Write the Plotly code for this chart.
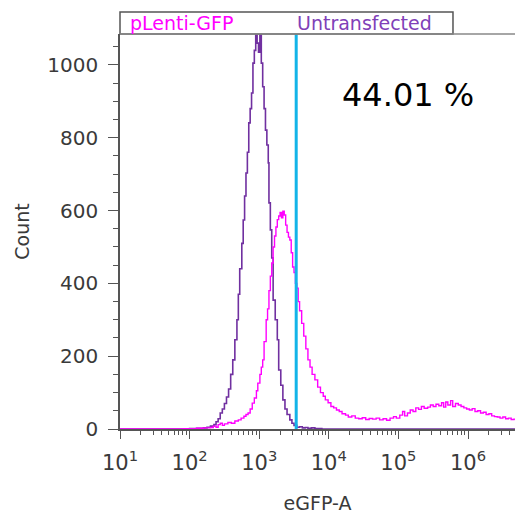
import plotly.graph_objects as go

# log10(eGFP-A) bin positions and counts
untr_logx = [1.0, 1.5, 2.0, 2.1, 2.2, 2.25, 2.3, 2.35, 2.38, 2.41, 2.44, 2.47, 2.50, 2.53, 2.56,
             2.59, 2.62, 2.65, 2.68, 2.70, 2.72, 2.75, 2.77, 2.79, 2.81, 2.83, 2.85, 2.87, 2.89,
             2.91, 2.93, 2.95, 2.97, 2.99, 3.01, 3.03, 3.05, 3.07, 3.09, 3.11, 3.13, 3.14, 3.16,
             3.18, 3.20, 3.23, 3.26, 3.28, 3.31, 3.34, 3.37, 3.40, 3.44, 3.47, 3.50, 3.54, 3.58,
             3.62, 3.66, 3.70, 3.75, 3.80, 3.90, 6.70]
untr_count = [0, 0, 1, 2, 3, 5, 8, 12, 20, 28, 44, 55, 70, 88, 110,
              150, 190, 245, 300, 370, 440, 510, 574, 640, 703, 760, 841, 880, 923,
              1005, 1040, 1090, 1060, 1035, 1090, 1005, 940, 880, 821, 780, 731, 621, 547,
              470, 354, 300, 245, 162, 120, 80, 55, 40, 25, 16, 10, 5, 6,
              3, 4, 2, 3, 1, 0, 0]

gfp_logx = [1.0, 1.5, 1.9, 2.1, 2.2, 2.3, 2.34, 2.38, 2.41, 2.44, 2.47, 2.50, 2.55, 2.60, 2.65,
            2.70, 2.74, 2.78, 2.81, 2.84, 2.87, 2.90, 2.93, 2.96, 2.98, 3.01, 3.03, 3.05, 3.07,
            3.10, 3.12, 3.14, 3.16, 3.18, 3.20, 3.22, 3.24, 3.26, 3.28, 3.30, 3.32, 3.34, 3.36,
            3.38, 3.40, 3.42, 3.44, 3.46, 3.48, 3.50, 3.52, 3.54, 3.56, 3.58, 3.61, 3.64, 3.67,
            3.70, 3.73, 3.76, 3.80, 3.84, 3.88, 3.92, 3.95, 3.99, 4.03, 4.07, 4.11, 4.15, 4.19,
            4.24, 4.28, 4.33, 4.38, 4.43, 4.48, 4.53, 4.58, 4.63, 4.68, 4.73, 4.78, 4.83, 4.88,
            4.93, 4.97, 5.02, 5.06, 5.09, 5.13, 5.17, 5.21, 5.25, 5.29, 5.33, 5.37, 5.42, 5.46,
            5.50, 5.54, 5.58, 5.62, 5.65, 5.68, 5.71, 5.75, 5.78, 5.82, 5.86, 5.90, 5.94, 5.98,
            6.02, 6.06, 6.10, 6.14, 6.18, 6.22, 6.26, 6.30, 6.34, 6.38, 6.42, 6.46, 6.50, 6.54,
            6.58, 6.62, 6.66, 6.70]
gfp_count = [0, 0, 1, 2, 3, 4, 8, 5, 12, 16, 10, 14, 18, 16, 22,
             25, 30, 35, 40, 44, 55, 71, 85, 105, 126, 150, 170, 190, 240,
             300, 330, 380, 420, 456, 500, 530, 555, 575, 585, 595, 580, 598, 588,
             560, 540, 527, 519, 484, 445, 430, 400, 387, 350, 325, 290, 255, 220,
             190, 170, 150, 135, 115, 100, 90, 80, 72, 62, 58, 52, 48, 42,
             38, 33, 36, 30, 28, 31, 26, 29, 27, 30, 25, 28, 24, 30,
             34, 30, 38, 48, 36, 44, 52, 48, 58, 54, 62, 57, 60, 66,
             62, 68, 64, 72, 60, 74, 66, 78, 62, 70, 66, 62, 58, 55,
             52, 56, 48, 50, 44, 46, 40, 42, 36, 34, 33, 30, 33, 28,
             30, 26, 27, 25]

x_tick_vals = [1e1, 1e2, 1e3, 1e4, 1e5, 1e6]
x_tick_text = ["10<sup>1</sup>", "10<sup>2</sup>", "10<sup>3</sup>",
               "10<sup>4</sup>", "10<sup>5</sup>", "10<sup>6</sup>"]

GATE = 3400
GATE_LABEL = "44.01 %"
Y_MAX = 1085
X_LOG_RANGE = [1, 6.675]

PURPLE = "#7030a0"
MAGENTA = "#ff00ff"
CYAN = "#12b4e8"
AXIS = "#555555"
TXT = "#3a3a3a"

fig = go.Figure()
fig.add_trace(go.Scatter(x=[10 ** v for v in untr_logx], y=untr_count, mode="lines",
                         line=dict(color=PURPLE, width=1.6, shape="hv"), name="Untransfected"))
fig.add_trace(go.Scatter(x=[10 ** v for v in gfp_logx], y=gfp_count, mode="lines",
                         line=dict(color=MAGENTA, width=1.4, shape="hv"), name="pLenti-GFP"))
fig.add_trace(go.Scatter(x=[GATE, GATE], y=[0, Y_MAX], mode="lines",
                         line=dict(color=CYAN, width=3), name="gate"))

fig.update_layout(
    width=515, height=514,
    margin=dict(l=120, r=0, t=34, b=85, autoexpand=False),
    paper_bgcolor="white", plot_bgcolor="white",
    showlegend=False,
    font=dict(family="DejaVu Sans", color=TXT),
    xaxis=dict(type="log", range=X_LOG_RANGE, tickmode="array", tickvals=x_tick_vals,
               ticktext=x_tick_text,
               showgrid=False, zeroline=False, showline=True, linecolor=AXIS, linewidth=1.5,
               ticks="outside", ticklen=8, tickcolor=AXIS, tickwidth=1.2,
               ticklabelstandoff=6,
               tickfont=dict(size=21, color=TXT),
               minor=dict(ticks="outside", ticklen=4, tickcolor=AXIS, dtick="D1", showgrid=False),
               title=dict(text="eGFP-A", font=dict(size=19, color=TXT), standoff=24)),
    yaxis=dict(range=[0, Y_MAX], dtick=200, showgrid=False, zeroline=False,
               showline=True, linecolor=AXIS, linewidth=1.5,
               ticks="outside", ticklen=10, tickcolor=AXIS, tickwidth=1.2,
               ticklabelstandoff=6,
               tickfont=dict(size=20, color=TXT),
               minor=dict(ticks="outside", ticklen=5, tickcolor=AXIS, dtick=50, showgrid=False),
               title=dict(text="Count", font=dict(size=19, color=TXT), standoff=13)),
)

# legend box and top border
fig.add_shape(type="rect", xref="paper", yref="paper", x0=0, x1=0.843, y0=1.0, y1=1.0557,
              line=dict(color=AXIS, width=1.5), fillcolor="white", layer="above")
fig.add_shape(type="line", xref="paper", yref="paper", x0=0, x1=1, y0=1.0, y1=1.0,
              line=dict(color="#888888", width=1.5), layer="above")
fig.add_annotation(xref="paper", yref="paper", x=0.02, y=1.028, xanchor="left", yanchor="middle",
                   text="pLenti-GFP", showarrow=False, font=dict(size=19, color=MAGENTA))
fig.add_annotation(xref="paper", yref="paper", x=0.443, y=1.028, xanchor="left", yanchor="middle",
                   text="Untransfected", showarrow=False, font=dict(size=19, color="#8040b8"))
fig.add_annotation(xref="paper", yref="paper", x=0.729, y=0.846, xanchor="center", yanchor="middle",
                   text=GATE_LABEL, showarrow=False, font=dict(size=32, color="black"))

fig.write_html("out.html", config={"displayModeBar": False},
               post_script="document.body.style.margin='0';document.body.style.overflow='hidden';")
